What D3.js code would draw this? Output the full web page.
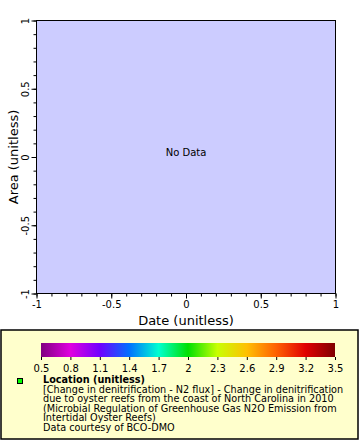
<!DOCTYPE html>
<html><head><meta charset="utf-8">
<script src="https://cdn.jsdelivr.net/npm/d3@7"></script>
<style>body{margin:0;background:#fff}svg{display:block;font-family:"DejaVu Sans",sans-serif}</style>
</head><body><svg id="c" width="360" height="440"></svg>
<script>
const xDomain = [-1, 1];
const yDomain = [-1, 1];
const majorTicks = [-1, -0.5, 0, 0.5, 1];
const minorTicks = d3.range(-10, 11).map(i => i / 10);
const colorStops = [0.5, 0.8, 1.1, 1.4, 1.7, 2.0, 2.3, 2.6, 2.9, 3.2, 3.5];
const colorValues = ["#800080","#e000e0","#7000ff","#0070ff","#00ffd0","#00e000","#c8ff00","#ffc000","#ff6000","#e00000","#800000"];
const tickLabels = ["0.5","0.8","1.1","1.4","1.7","2","2.3","2.6","2.9","3.2","3.5"];
const legendLines = ["[Change in denitrification - N2 flux] - Change in denitrification","due to oyster reefs from the coast of North Carolina in 2010","(Microbial Regulation of Greenhouse Gas N2O Emission from","Intertidal Oyster Reefs)","Data courtesy of BCO-DMO"];

const svg = d3.select("#c");
const L = 36.5, R = 335.5, T = 20.5, B = 293.5;
const x = d3.scaleLinear().domain(xDomain).range([L, R]);
const y = d3.scaleLinear().domain(yDomain).range([B, T]);
const fmt = d => String(d);

svg.append("rect").attr("x", L).attr("y", T).attr("width", R-L).attr("height", B-T)
  .attr("fill", "#ccccff").attr("stroke", "#000").attr("stroke-width", 1);

// x axis
const gx = svg.append("g").attr("transform", `translate(0,${B})`);
gx.call(d3.axisBottom(x).tickValues(minorTicks).tickSize(3).tickFormat(""))
  .call(g => g.select(".domain").remove());
const gx2 = svg.append("g").attr("transform", `translate(0,${B})`);
gx2.call(d3.axisBottom(x).tickValues(majorTicks).tickSize(5).tickPadding(2).tickFormat(fmt))
  .call(g => g.select(".domain").remove())
  .call(g => g.selectAll("text").attr("font-size", 10).attr("font-family", "DejaVu Sans").attr("fill","#000"));

// y axis
const gy = svg.append("g").attr("transform", `translate(${L},0)`);
gy.call(d3.axisLeft(y).tickValues(minorTicks).tickSize(3).tickFormat(""))
  .call(g => g.select(".domain").remove());
const gy2 = svg.append("g").attr("transform", `translate(${L},0)`);
gy2.call(d3.axisLeft(y).tickValues(majorTicks).tickSize(5).tickFormat(fmt))
  .call(g => g.select(".domain").remove())
  .call(g => g.selectAll("text").attr("font-size", 10).attr("font-family", "DejaVu Sans").attr("fill","#000")
    .attr("transform", "rotate(-90)").attr("x", 0).attr("y", -8).attr("dy", "0").attr("text-anchor", "middle"));

svg.append("text").attr("x", (L+R)/2).attr("y", 325).attr("text-anchor", "middle")
  .attr("font-size", 13).text("Date (unitless)");
svg.append("text").attr("transform", `translate(18,${(T+B)/2}) rotate(-90)`).attr("text-anchor", "middle")
  .attr("font-size", 13).text("Area (unitless)");
svg.append("text").attr("x", (L+R)/2).attr("y", 156).attr("text-anchor", "middle")
  .attr("font-size", 10).text("No Data");

// legend
svg.append("rect").attr("x", 1).attr("y", 330).attr("width", 357).attr("height", 109)
  .attr("fill", "#ffffcc").attr("stroke", "#000").attr("stroke-width", 1.5);
const c = d3.scaleLinear().domain([0.5, 3.5]).range([41, 335]);
const grad = svg.append("defs").append("linearGradient").attr("id", "g");
colorStops.forEach((s, i) => grad.append("stop").attr("offset", (s-0.5)/3).attr("stop-color", colorValues[i]));
svg.append("rect").attr("x", 41).attr("y", 343).attr("width", 294).attr("height", 14).attr("fill", "url(#g)");
const gc = svg.append("g").attr("transform", "translate(0,357)");
gc.call(d3.axisBottom(c).tickValues(colorStops).tickSize(3).tickPadding(4.5).tickFormat((d,i) => tickLabels[i]))
  .call(g => g.select(".domain").remove())
  .call(g => g.selectAll("text").attr("font-size", 10).attr("font-family", "DejaVu Sans").attr("fill","#000"));

svg.append("rect").attr("x", 17.5).attr("y", 378.5).attr("width", 5).attr("height", 5)
  .attr("fill", "#00ff00").attr("stroke", "#000");
svg.append("text").attr("x", 43).attr("y", 383).attr("font-size", 9.7).attr("font-weight", "bold").text("Location (unitless)");
legendLines.forEach((t, i) => svg.append("text").attr("x", 43).attr("y", 392.5 + i*9.5).attr("font-size", 9.7).text(t));
</script></body></html>
